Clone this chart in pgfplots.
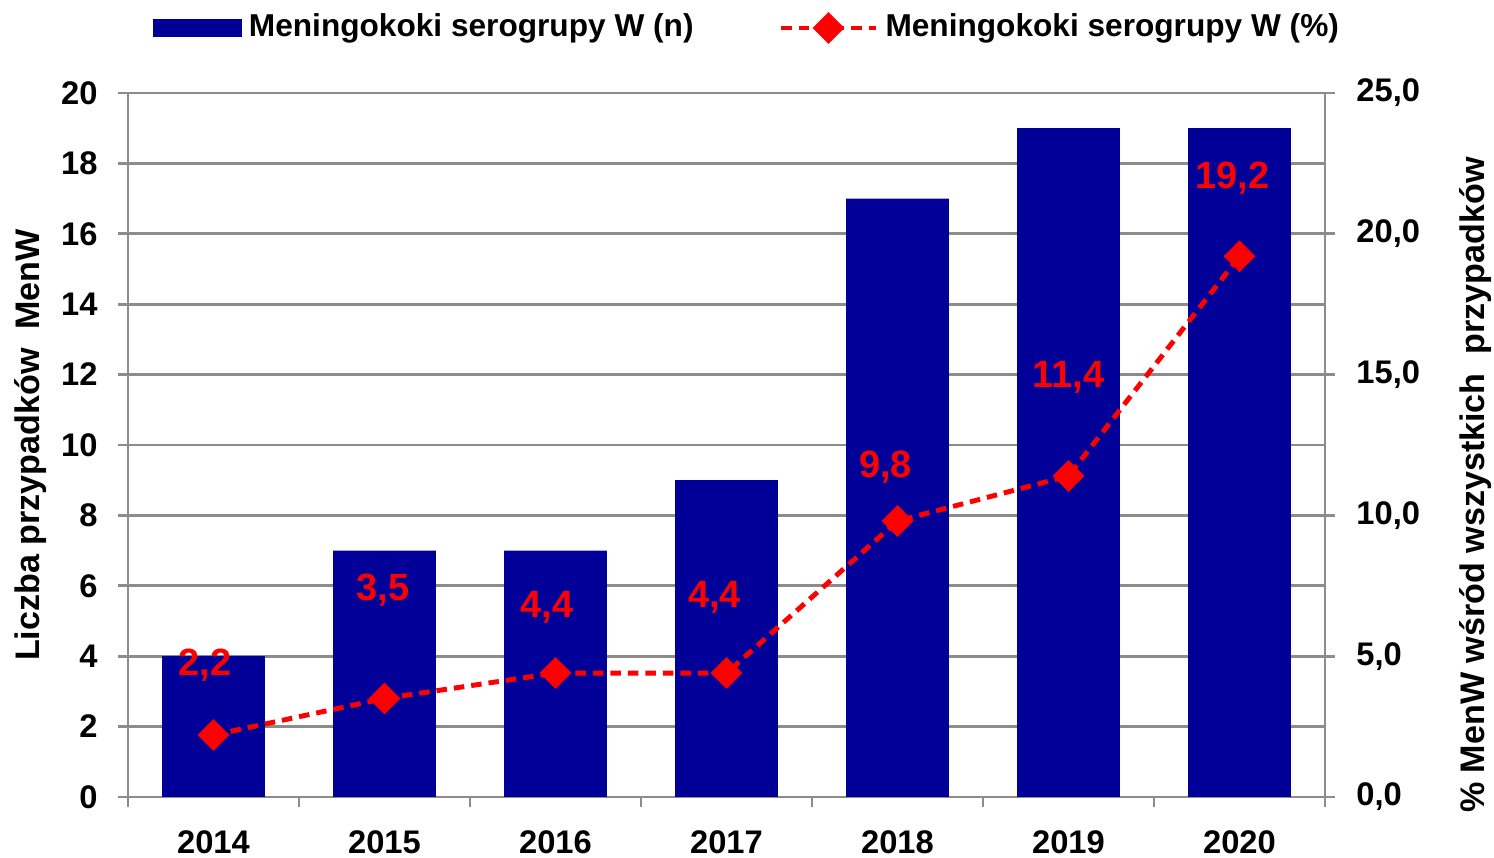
\documentclass[border=0pt]{standalone}
\usepackage{fontspec}
\setmainfont{Liberation Sans}
\usepackage{pgfplots}
\usepackage{pgfplotstable}
\pgfplotsset{compat=1.18}
\definecolor{barnavy}{RGB}{0,0,153}
\definecolor{gridgray}{RGB}{140,140,140}
\definecolor{linered}{RGB}{255,0,0}

% number of MenW cases per year
\pgfplotstableread{
x n
0 4
1 7
2 7
3 9
4 17
5 19
6 19
}\casestable

% share of MenW among all cases (%)
\pgfplotstableread{
x p
0 2.2
1 3.5
2 4.4
3 4.4
4 9.8
5 11.4
6 19.2
}\sharetable

\pgfplotsset{
  base/.style={
    width=119.7mm, height=70.4mm, scale only axis,
    xmin=-0.5, xmax=6.5,
    axis line style={gridgray, line width=0.8pt},
    tick style={gridgray, line width=0.8pt},
    major tick length=1mm,
    tick align=outside,
    /pgf/number format/assume math mode=true,
    ticklabel style={font=\fontsize{9.3}{11}\selectfont\bfseries},
    label style={font=\fontsize{9.7}{12}\selectfont\bfseries},
  },
  barlegend/.style={legend image code/.code={\fill[barnavy] (0mm,-0.85mm) rectangle (8.8mm,0.85mm);}},
  dashlegend/.style={legend image code/.code={%
    \draw[mark repeat=2,mark phase=2,##1] plot coordinates {(0mm,0mm) (4.75mm,0mm) (9.5mm,0mm)};}},
}

\begin{document}
\begin{tikzpicture}
\begin{axis}[base,
  ymin=0, ymax=20, ytick={0,2,...,20},
  ytick pos=left, xtick pos=bottom,
  ymajorgrids, grid style={gridgray, line width=0.8pt},
  xtick={-0.5,0.5,...,6.5},
  x tick label as interval,
  xticklabels={2014,2015,2016,2017,2018,2019,2020},
  yticklabel shift=0.8mm,
  xticklabel shift=1.1mm,
  ylabel shift=-0.9mm,
  ylabel={Liczba przypadków\ \ MenW},
]
\addplot[ybar, bar width=0.6, fill=barnavy, draw=none] table[x=x,y=n]{\casestable};
\end{axis}
\begin{axis}[base,
  ymin=0, ymax=25, ytick={0,5,...,25},
  axis y line*=right, axis x line=none,
  yticklabel style={/pgf/number format/.cd, fixed, fixed zerofill, precision=1, use comma},
  yticklabel shift=0.9mm,
  ylabel shift=1.5mm,
  ylabel={\% MenW wśród wszystkich\ \ przypadków},
  ylabel style={at={(ticklabel cs:0.443)}},
  legend style={draw=none, fill=none, at={(0.519,1)}, anchor=center, yshift=6.5mm,
    legend columns=2, font=\fontsize{9}{11}\selectfont\bfseries,
    /tikz/every even column/.append style={column sep=7.8mm}},
]
\addlegendimage{barlegend}
\addlegendentry{Meningokoki serogrupy W (n)}
\addplot[linered, line width=1.4pt, dash pattern=on 1.05mm off 0.7mm,
  mark=square*, mark size=2.5pt, mark options={rotate=45, solid, fill=linered},
  dashlegend] table[x=x,y=p]{\sharetable};
\addlegendentry{Meningokoki serogrupy W (\%)}
\addplot[draw=none, mark=none, forget plot, nodes near coords, point meta=explicit symbolic,
  nodes near coords style={anchor=center, text=linered, font=\fontsize{10.8}{13}\selectfont\bfseries}]
  coordinates {
  (-0.05,4.69) [2,2]
  (0.99,7.35) [3,5]
  (1.95,6.75) [4,4]
  (2.93,7.10) [4,4]
  (3.93,11.72) [9,8]
  (5.0,14.91) [11,4]
  (5.96,21.98) [19,2]
};
\end{axis}
% page frame with the reference's margins around the plot area
\pgfresetboundingbox
\path[use as bounding box] ([xshift=-12.8mm,yshift=-6.1mm]current axis.south west)
  rectangle ([xshift=16.9mm,yshift=9.3mm]current axis.north east);
\end{tikzpicture}
\end{document}
